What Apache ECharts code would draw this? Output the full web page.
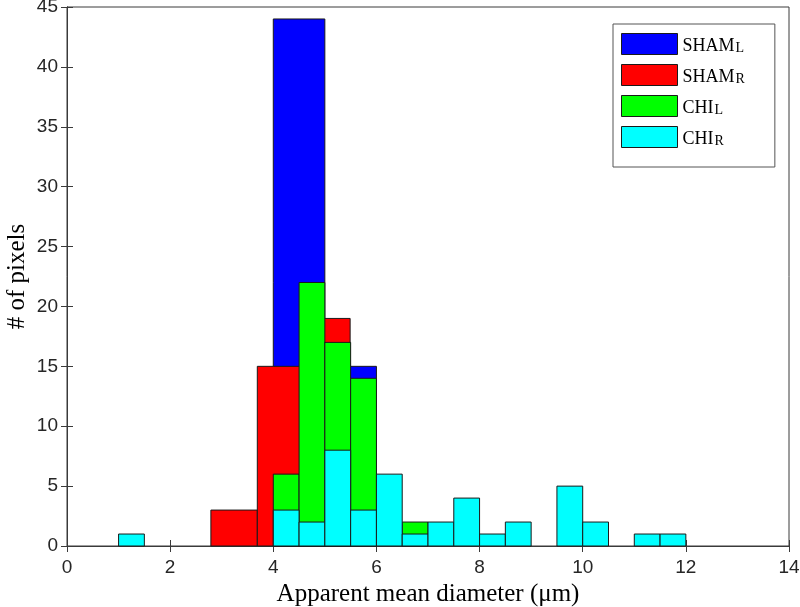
<!DOCTYPE html>
<html>
<head>
<meta charset="utf-8">
<script src="https://cdn.jsdelivr.net/npm/echarts@6/dist/echarts.min.js"></script>
<style>html,body{margin:0;padding:0;background:#fff}#c{width:800px;height:607px}</style>
</head>
<body>
<div id="c"></div>
<script>
// Histogram data: bin edges and counts per series
const seriesNames = ['SHAM_L', 'SHAM_R', 'CHI_L', 'CHI_R'];
const shamLEdges = [4, 5, 6];
const shamLCounts = [44, 15];
const shamREdges = [2.79, 3.69, 4.59, 5.49];
const shamRCounts = [3, 15, 19];
const chiLEdges = [4, 4.5, 5, 5.5, 6, 6.5, 7];
const chiLCounts = [6, 22, 17, 14, 0, 2];
const chiREdges = [1, 1.5, 2, 2.5, 3, 3.5, 4, 4.5, 5, 5.5, 6, 6.5, 7, 7.5, 8, 8.5, 9, 9.5, 10, 10.5, 11, 11.5, 12];
const chiRCounts = [1, 0, 0, 0, 0, 0, 3, 2, 8, 3, 6, 1, 2, 4, 1, 2, 0, 5, 2, 0, 1, 1];
const xTicks = [0, 2, 4, 6, 8, 10, 12, 14];
const yTicks = [0, 5, 10, 15, 20, 25, 30, 35, 40, 45];

const colors = ['#0000ff', '#ff0000', '#00ff00', '#00ffff'];
const allEdges = [shamLEdges, shamREdges, chiLEdges, chiREdges];
const allCounts = [shamLCounts, shamRCounts, chiLCounts, chiRCounts];

function toBins(edges, counts) {
  const out = [];
  for (let i = 0; i < counts.length; i++) out.push([edges[i], edges[i + 1], counts[i]]);
  return out;
}

const series = seriesNames.map((name, k) => ({
  name: name,
  type: 'custom',
  xAxisIndex: 0,
  yAxisIndex: 0,
  z: 2 + k,
  itemStyle: { color: colors[k], borderColor: '#1a1a1a', borderWidth: 1 },
  encode: { x: [0, 1], y: 2 },
  data: toBins(allEdges[k], allCounts[k]),
  renderItem: function (params, api) {
    const h = api.value(2);
    if (h <= 0) return null;
    const p0 = api.coord([api.value(0), 0]);
    const p1 = api.coord([api.value(1), h]);
    return {
      type: 'rect',
      shape: { x: p0[0], y: p1[1], width: p1[0] - p0[0], height: p0[1] - p1[1] },
      style: { fill: colors[k], stroke: '#1a1a1a', lineWidth: 1 }
    };
  }
}));
// empty helper series so the top and right mirror axes are laid out
series.push({ name: '_top', type: 'line', xAxisIndex: 1, yAxisIndex: 1, data: [], silent: true });

const axisLineStyle = { color: '#3a3a3a', width: 1 };
const tickFont = { fontFamily: 'Liberation Sans', fontSize: 19, color: '#262626' };

const option = {
  animation: false,
  backgroundColor: '#ffffff',
  grid: { left: 67, right: 11, top: 7, bottom: 61, containLabel: false, outerBoundsMode: 'none',
          show: true, borderColor: '#3a3a3a', borderWidth: 1, backgroundColor: 'transparent' },
  xAxis: [
    {
      type: 'value', position: 'bottom', min: xTicks[0], max: xTicks[xTicks.length - 1], interval: 2,
      axisLine: { show: true, lineStyle: axisLineStyle },
      axisTick: { show: true, inside: true, length: 6, lineStyle: axisLineStyle },
      axisLabel: Object.assign({ margin: 12 }, tickFont),
      splitLine: { show: false },
      name: 'Apparent mean diameter (μm)', nameLocation: 'middle', nameGap: 33,
      nameTextStyle: { fontFamily: 'Liberation Serif', fontSize: 25, color: '#000' }
    },
    {
      type: 'value', position: 'top', min: xTicks[0], max: xTicks[xTicks.length - 1], interval: 2,
      axisLine: { show: true, lineStyle: axisLineStyle },
      axisTick: { show: true, inside: true, length: 6, lineStyle: axisLineStyle },
      axisLabel: { show: false }, splitLine: { show: false }
    }
  ],
  yAxis: [
    {
      type: 'value', position: 'left', min: yTicks[0], max: yTicks[yTicks.length - 1], interval: 5,
      axisLine: { show: true, lineStyle: axisLineStyle },
      axisTick: { show: true, inside: true, length: 6, lineStyle: axisLineStyle },
      axisLabel: Object.assign({ margin: 9 }, tickFont),
      splitLine: { show: false },
      name: '# of pixels', nameLocation: 'middle', nameGap: 37, nameRotate: 90, nameMoveOverlap: false,
      nameTextStyle: { fontFamily: 'Liberation Serif', fontSize: 25, color: '#000' }
    },
    {
      type: 'value', position: 'right', min: yTicks[0], max: yTicks[yTicks.length - 1], interval: 5,
      axisLine: { show: true, lineStyle: axisLineStyle },
      axisTick: { show: true, inside: true, length: 6, lineStyle: axisLineStyle },
      axisLabel: { show: false }, splitLine: { show: false }
    }
  ],
  legend: {
    orient: 'vertical',
    left: 613, top: 24,
    itemWidth: 56, itemHeight: 21, itemGap: 8,
    padding: [8, 30, 19, 8],
    borderColor: '#555', borderWidth: 1, backgroundColor: '#fff',
    icon: 'rect',
    itemStyle: { borderColor: '#1a1a1a', borderWidth: 1 },
    data: seriesNames,
    formatter: function (name) {
      const parts = name.split('_');
      return '{m|' + parts[0] + '}{s|' + parts[1] + '}';
    },
    textStyle: {
      rich: {
        m: { fontFamily: 'Liberation Serif', fontSize: 18, color: '#000', verticalAlign: 'bottom', lineHeight: 22 },
        s: { fontFamily: 'Liberation Serif', fontSize: 14, color: '#000', verticalAlign: 'bottom', lineHeight: 14, padding: [9, 0, 0, 1] }
      }
    }
  },
  series: series
};

const chart = echarts.init(document.getElementById('c'), null, { renderer: 'canvas' });
chart.setOption(option);
</script>
</body>
</html>
